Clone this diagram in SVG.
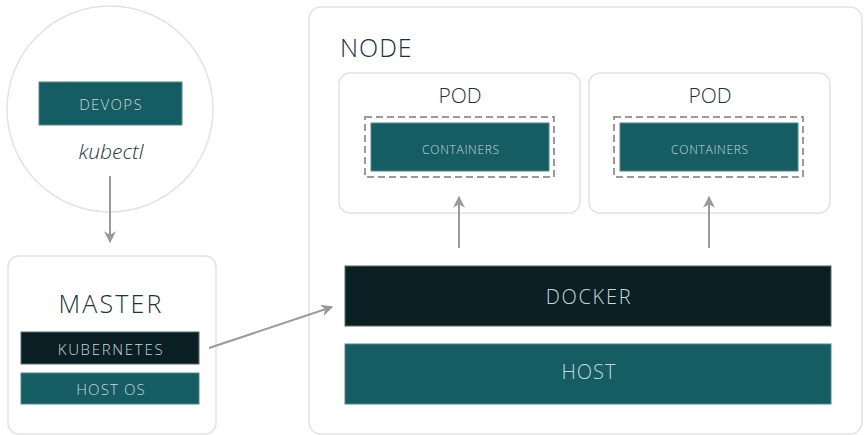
<svg xmlns="http://www.w3.org/2000/svg" width="864" height="435" viewBox="0 0 864 435">
<style>
.frame{fill:#fff;stroke:#e2e2e2;stroke-width:1.5}
.teal{fill:#155c63;stroke:#4f8a8f;stroke-width:1}
.dark{fill:#0a1f23;stroke:#5a6c6e;stroke-width:1}
.lbl{font-family:"Open Sans","Liberation Sans",sans-serif;font-weight:300;fill:#c8d8d9;text-anchor:middle;dominant-baseline:central}
.title{font-family:"Open Sans","Liberation Sans",sans-serif;font-weight:300;fill:#1b3438;text-anchor:middle}
.conn{stroke:#9a9a9a;stroke-width:2;fill:none;marker-end:url(#ah)}
.dash{fill:none;stroke:#9a9a9a;stroke-width:2;stroke-dasharray:7 4}
</style>
<defs>
<marker id="ah" viewBox="0 0 10 10" refX="9" refY="5" markerWidth="6" markerHeight="6" orient="auto" markerUnits="strokeWidth">
<path d="M0,0 L10,5 L0,10 L3,5 z" fill="#9a9a9a"/>
</marker>
</defs>
<rect width="864" height="435" fill="#fff"/>
<g id="devops">
<circle cx="110" cy="109" r="103" class="frame"/>
<rect x="39" y="82" width="143" height="43" class="teal"/>
<text x="111" y="104" class="lbl" font-size="15" letter-spacing="1.3">DEVOPS</text>
<text x="111" y="159" font-family="Open Sans, Liberation Sans, sans-serif" font-style="italic" font-weight="300" font-size="21" fill="#1b3438" text-anchor="middle">kubectl</text>
</g>
<g id="master">
<rect x="8" y="256" width="208" height="178" rx="11" class="frame"/>
<text x="111" y="313" class="title" font-size="25" letter-spacing="2.2">MASTER</text>
<rect x="21" y="332" width="178" height="32" class="dark"/>
<text x="111" y="348.5" class="lbl" font-size="15" letter-spacing="1.7">KUBERNETES</text>
<rect x="21" y="373" width="178" height="31" class="teal"/>
<text x="111" y="389" class="lbl" font-size="15" letter-spacing="1.1">HOST OS</text>
</g>
<g id="node">
<rect x="309" y="7" width="553" height="427" rx="12" class="frame"/>
<text x="340" y="57" font-family="Open Sans, Liberation Sans, sans-serif" font-weight="300" font-size="25" fill="#1b3438" letter-spacing="1">NODE</text>
</g>
<g id="pod1">
<rect x="339" y="73" width="241" height="140" rx="11" class="frame"/>
<text x="460" y="103" class="title" font-size="21">POD</text>
<rect x="365" y="117" width="189" height="60" class="dash"/>
<rect x="371" y="123" width="178" height="48" class="teal"/>
<text x="461" y="149" class="lbl" font-size="12" letter-spacing="0.7">CONTAINERS</text>
</g>
<g id="pod2">
<rect x="589" y="73" width="241" height="140" rx="11" class="frame"/>
<text x="710" y="103" class="title" font-size="21">POD</text>
<rect x="614" y="117" width="189" height="60" class="dash"/>
<rect x="620" y="123" width="178" height="48" class="teal"/>
<text x="710" y="149" class="lbl" font-size="12" letter-spacing="0.7">CONTAINERS</text>
</g>
<g id="docker">
<rect x="345" y="266" width="486" height="60" class="dark"/>
<text x="589" y="296" class="lbl" font-size="20" letter-spacing="1.7">DOCKER</text>
</g>
<g id="host">
<rect x="345" y="344" width="486" height="60" class="teal"/>
<text x="589" y="371" class="lbl" font-size="20" letter-spacing="1">HOST</text>
</g>
<g id="connectors">
<line x1="110" y1="176" x2="110" y2="242" class="conn"/>
<line x1="209" y1="348" x2="332" y2="307" class="conn"/>
<line x1="459" y1="248" x2="459" y2="197" class="conn"/>
<line x1="709" y1="248" x2="709" y2="197" class="conn"/>
</g>
</svg>
